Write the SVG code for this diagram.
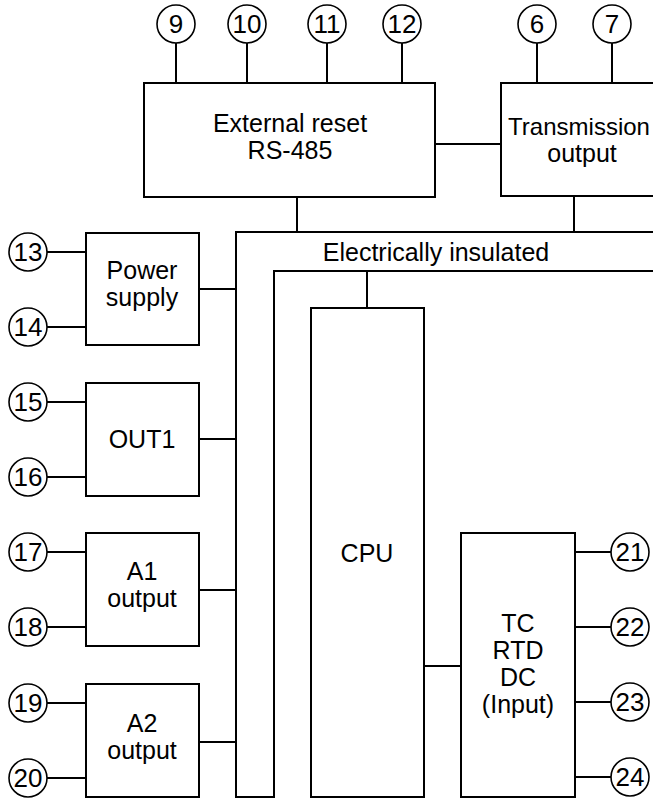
<svg xmlns="http://www.w3.org/2000/svg" width="653" height="800" viewBox="0 0 653 800">
<style>
.box{fill:#fff;stroke:#000;stroke-width:2}
.pin{fill:#fff;stroke:#000;stroke-width:1.6}
.ln{fill:none;stroke:#000;stroke-width:2}
text{font-family:"Liberation Sans",Arial,sans-serif;font-size:25px;fill:#000;text-anchor:middle}
.num{font-size:26px}
.tr{font-size:24px}
</style>
<rect width="653" height="800" fill="#fff"/>
<g id="connectors">
<path class="ln" d="M176 43V83M247 43V83M327 43V83M402 43V83M537 43V83M612 43V83"/>
<path class="ln" d="M435 144H501M297 197V232M574 196V232"/>
<path class="ln" d="M660 232H236V797H274V271H660"/>
<path class="ln" d="M367 271V308M424 666H461"/>
<path class="ln" d="M199 289H236M199 439H236M199 590H236M199 742H236"/>
<path class="ln" d="M47 252H86M47 327H86M47 402H86M47 477H86M47 552H86M47 627H86M47 703H86M47 778H86"/>
<path class="ln" d="M575 552H611M575 627H611M575 702H611M575 777H611"/>
</g>
<g id="ext_reset"><rect class="box" x="144" y="83" width="291" height="114"/><text x="290" y="132">External reset</text><text x="290" y="159">RS-485</text></g>
<g id="transmission"><rect class="box" x="501" y="83" width="160" height="113"/><text class="tr" x="579" y="135">Transmission</text><text x="582" y="162">output</text></g>
<g id="bus_label"><text x="436" y="261">Electrically insulated</text></g>
<g id="power"><rect class="box" x="86" y="233" width="113" height="112"/><text x="142" y="279">Power</text><text x="142" y="306">supply</text></g>
<g id="out1"><rect class="box" x="86" y="383" width="113" height="113"/><text x="142" y="448">OUT1</text></g>
<g id="a1"><rect class="box" x="86" y="533" width="113" height="113"/><text x="142" y="580">A1</text><text x="142" y="607">output</text></g>
<g id="a2"><rect class="box" x="86" y="684" width="113" height="113"/><text x="142" y="732">A2</text><text x="142" y="759">output</text></g>
<g id="cpu"><rect class="box" x="311" y="308" width="113" height="489"/><text x="367" y="562">CPU</text></g>
<g id="input"><rect class="box" x="461" y="533" width="114" height="264"/><text x="518" y="632">TC</text><text x="518" y="659">RTD</text><text x="518" y="686">DC</text><text x="518" y="713">(Input)</text></g>
<g id="pin9"><circle class="pin" cx="176" cy="24" r="19"/><text class="num" x="176" y="33">9</text></g>
<g id="pin10"><circle class="pin" cx="247" cy="24" r="19"/><text class="num" x="247" y="33">10</text></g>
<g id="pin11"><circle class="pin" cx="327" cy="24" r="19"/><text class="num" x="327" y="33">11</text></g>
<g id="pin12"><circle class="pin" cx="402" cy="24" r="19"/><text class="num" x="402" y="33">12</text></g>
<g id="pin6"><circle class="pin" cx="537" cy="24" r="19"/><text class="num" x="537" y="33">6</text></g>
<g id="pin7"><circle class="pin" cx="612" cy="24" r="19"/><text class="num" x="612" y="33">7</text></g>
<g id="pin13"><circle class="pin" cx="28" cy="252" r="19"/><text class="num" x="28" y="261">13</text></g>
<g id="pin14"><circle class="pin" cx="28" cy="327" r="19"/><text class="num" x="28" y="336">14</text></g>
<g id="pin15"><circle class="pin" cx="28" cy="402" r="19"/><text class="num" x="28" y="411">15</text></g>
<g id="pin16"><circle class="pin" cx="28" cy="477" r="19"/><text class="num" x="28" y="486">16</text></g>
<g id="pin17"><circle class="pin" cx="28" cy="552" r="19"/><text class="num" x="28" y="561">17</text></g>
<g id="pin18"><circle class="pin" cx="28" cy="627" r="19"/><text class="num" x="28" y="636">18</text></g>
<g id="pin19"><circle class="pin" cx="28" cy="703" r="19"/><text class="num" x="28" y="712">19</text></g>
<g id="pin20"><circle class="pin" cx="28" cy="778" r="19"/><text class="num" x="28" y="787">20</text></g>
<g id="pin21"><circle class="pin" cx="630" cy="552" r="19"/><text class="num" x="630" y="561">21</text></g>
<g id="pin22"><circle class="pin" cx="630" cy="627" r="19"/><text class="num" x="630" y="636">22</text></g>
<g id="pin23"><circle class="pin" cx="630" cy="702" r="19"/><text class="num" x="630" y="711">23</text></g>
<g id="pin24"><circle class="pin" cx="630" cy="777" r="19"/><text class="num" x="630" y="786">24</text></g>
</svg>
